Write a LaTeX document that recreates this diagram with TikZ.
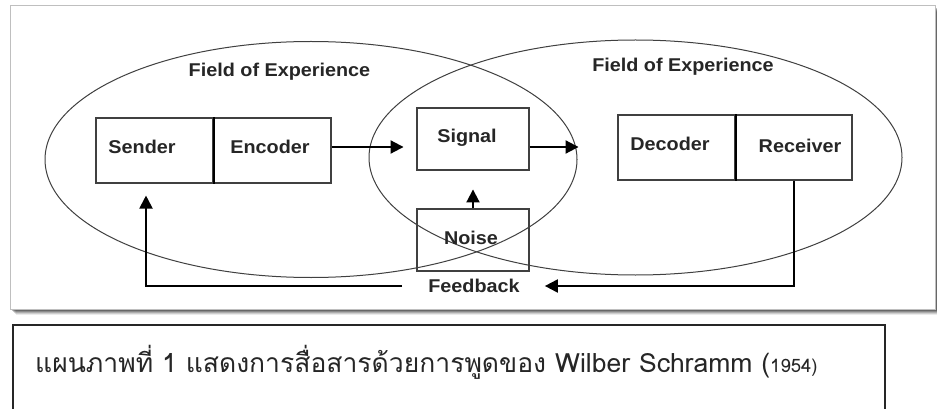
\documentclass[tikz,border=0pt]{standalone}
\usepackage{fontspec}
\usetikzlibrary{arrows.meta}
\newfontfamily\lab[FakeStretch=1.07]{Liberation Sans}
\newfontfamily\thaifont[Script=Thai]{Loma}
\begin{document}
\begin{tikzpicture}[x=1pt,y=-1pt,
  box/.style={draw=black!75,line width=1.1pt,inner sep=0pt},
  lbl/.style={font=\lab\bfseries\fontsize{18.5}{20}\selectfont,text=black!85,inner sep=0pt},
  arr/.style={line width=2pt,-{Triangle[length=13pt,width=13pt]}},
  ell/.style={draw=black!75,line width=1pt}]
\useasboundingbox (0,0) rectangle (937,409);
% frame with shadow
\foreach \d/\o in {6/0.08,5/0.12,4/0.16,3/0.2,2/0.25}{
  \fill[black,opacity=\o] (10+\d,6+\d) rectangle (935+\d,309+\d);}
\fill[white] (10,6) rectangle (935,309);
\draw[black!25,line width=1pt] (10,6) rectangle (935,309);
% ellipses
\draw[ell] (311,159.5) ellipse [x radius=266pt, y radius=118pt];
\draw[ell] (635.5,157.5) ellipse [x radius=266.5pt, y radius=117.5pt];
% boxes
\node[box,minimum width=117pt,minimum height=65pt] (sender) at (154.5,150.5) {};
\node[box,minimum width=118pt,minimum height=65pt] (encoder) at (272,150.5) {};
\draw[line width=2pt] (sender.north east) -- (sender.south east);
\node[box,minimum width=112pt,minimum height=62pt] (signal) at (473,139) {};
\node[box,minimum width=117pt,minimum height=65pt] (decoder) at (676.5,147.5) {};
\node[box,minimum width=117pt,minimum height=65pt] (receiver) at (793.5,147.5) {};
\draw[line width=2pt] (decoder.north east) -- (decoder.south east);
\node[box,minimum width=112pt,minimum height=62pt] (noise) at (473,240) {};
% labels
\node[lbl] at (279.5,72) {Field of Experience};
\node[lbl] at (683,67) {Field of Experience};
\node[lbl] at (142,147) {Sender};
\node[lbl] at (270,147) {Encoder};
\node[lbl] at (467,138) {Signal};
\node[lbl] at (670,144) {Decoder};
\node[lbl] at (800,146) {Receiver};
\node[lbl] at (471,238) {Noise};
\node[lbl] (fb) at (474,286) {Feedback};
% arrows
\draw[arr] ([yshift=3.5pt]encoder.east) -- ++(72,0);
\draw[arr] ([yshift=-8pt]signal.east) -- ++(49,0);
\draw[arr] (noise.north) -- ++(0,-19);
\draw[arr] (receiver.south) |- ([xshift=25pt]fb.east);
\draw[arr] ([xshift=-26pt]fb.west) -| ([xshift=-8.5pt,yshift=-12pt]sender.south);
% caption box
\draw[black!85,line width=1.2pt] (13,412) -- (13,325) -- (885,325) -- (885,412);
\node[anchor=west,inner sep=0pt,text=black!85,font=\thaifont\fontsize{26.5}{30}\selectfont] (cap) at (35,362)
  {แผนภาพที่ 1 แสดงการสื่อสารด้วยการพูดของ Wilber Schramm (\fontsize{18.5}{22}\selectfont 1954)};
\end{tikzpicture}
\end{document}
